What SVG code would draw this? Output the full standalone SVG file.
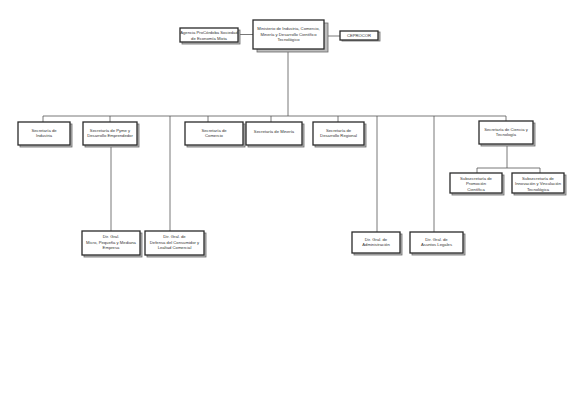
<svg xmlns="http://www.w3.org/2000/svg" width="575" height="406" viewBox="0 0 575 406">
<defs>
<style>
.box{fill:#fff;stroke:#2a2a2a;stroke-width:1.3}
.sh{fill:#bdbdbd;stroke:#6a6a6a;stroke-width:0.8}
.t{font-family:"Liberation Sans",Arial,sans-serif;font-size:4.2px;fill:#333;text-anchor:middle}
.c{fill:none;stroke:#555;stroke-width:0.8}
</style>
</defs>
<rect width="575" height="406" fill="#fff"/>
<g id="connectors">
<path class="c" d="M238,34.5H253M324,36H340"/>
<path class="c" d="M288,50V116M43,116H506M43,116V122M110,116V122M170,116V231M208,116V122M271,116V122M338,116V122M377,116V232M434,116V232M506,116V121"/>
<path class="c" d="M111,145V231M507,144V168M477,168H540M477,168V173M540,168V173"/>
</g>
<g id="agencia"><rect class="sh" x="182" y="30" width="58" height="14"/><rect class="box" x="180" y="28" width="58" height="14"/><text class="t" x="209" y="34">Agencia ProCórdoba Sociedad</text><text class="t" x="209" y="39.5">de Economía Mixta</text></g>
<g id="ministerio"><rect class="sh" x="257" y="23" width="71" height="29"/><rect class="box" x="253" y="20" width="71" height="29"/><text class="t" x="288.5" y="30">Ministerio de Industria, Comercio,</text><text class="t" x="288.5" y="35.5">Minería y Desarrollo Científico</text><text class="t" x="288.5" y="41">Tecnológico</text></g>
<g id="ceprocor"><rect class="sh" x="342" y="32" width="38" height="9"/><rect class="box" x="340" y="31" width="38" height="9"/><text class="t" x="359" y="37">CEPROCOR</text></g>
<g id="sec-industria"><rect class="sh" x="20" y="124" width="52" height="23"/><rect class="box" x="18" y="122" width="52" height="23"/><text class="t" x="44" y="131.5">Secretaría de</text><text class="t" x="44" y="137">Industria</text></g>
<g id="sec-pyme"><rect class="sh" x="85" y="124" width="54" height="23"/><rect class="box" x="83" y="122" width="54" height="23"/><text class="t" x="110" y="131.5">Secretaría de Pyme y</text><text class="t" x="110" y="137">Desarrollo Emprendedor</text></g>
<g id="sec-comercio"><rect class="sh" x="187" y="124" width="58" height="23"/><rect class="box" x="185" y="122" width="58" height="23"/><text class="t" x="214" y="131.5">Secretaría de</text><text class="t" x="214" y="137">Comercio</text></g>
<g id="sec-mineria"><rect class="sh" x="248" y="124" width="56" height="23"/><rect class="box" x="246" y="122" width="56" height="23"/><text class="t" x="274" y="133">Secretaría de Minería</text></g>
<g id="sec-regional"><rect class="sh" x="315" y="124" width="51" height="23"/><rect class="box" x="313" y="122" width="51" height="23"/><text class="t" x="338.5" y="131.5">Secretaría de</text><text class="t" x="338.5" y="137">Desarrollo Regional</text></g>
<g id="sec-ciencia"><rect class="sh" x="481" y="123" width="54" height="23"/><rect class="box" x="479" y="121" width="54" height="23"/><text class="t" x="506" y="130.5">Secretaría de Ciencia y</text><text class="t" x="506" y="136">Tecnología</text></g>
<g id="sub-promocion"><rect class="sh" x="452" y="175" width="52" height="20"/><rect class="box" x="450" y="173" width="52" height="20"/><text class="t" x="476" y="179.5">Subsecretaría de</text><text class="t" x="476" y="185">Promoción</text><text class="t" x="476" y="190.5">Científica</text></g>
<g id="sub-innovacion"><rect class="sh" x="514" y="175" width="52" height="20"/><rect class="box" x="512" y="173" width="52" height="20"/><text class="t" x="538" y="179.5">Subsecretaría de</text><text class="t" x="538" y="185">Innovación y Vinculación</text><text class="t" x="538" y="190.5">Tecnológica</text></g>
<g id="dir-mipyme"><rect class="sh" x="84" y="233" width="58" height="24"/><rect class="box" x="82" y="231" width="58" height="24"/><text class="t" x="111" y="238">Dir. Gral.</text><text class="t" x="111" y="243.5">Micro, Pequeña y Mediana</text><text class="t" x="111" y="249">Empresa</text></g>
<g id="dir-defensa"><rect class="sh" x="147" y="233" width="59" height="24"/><rect class="box" x="145" y="231" width="59" height="24"/><text class="t" x="174.5" y="238">Dir. Gral. de</text><text class="t" x="174.5" y="243.5">Defensa del Consumidor y</text><text class="t" x="174.5" y="249">Lealtad Comercial</text></g>
<g id="dir-admin"><rect class="sh" x="354" y="234" width="48" height="21"/><rect class="box" x="352" y="232" width="48" height="21"/><text class="t" x="376" y="240.5">Dir. Gral. de</text><text class="t" x="376" y="246">Administración</text></g>
<g id="dir-legales"><rect class="sh" x="412" y="234" width="53" height="21"/><rect class="box" x="410" y="232" width="53" height="21"/><text class="t" x="436.5" y="240.5">Dir. Gral. de</text><text class="t" x="436.5" y="246">Asuntos Legales</text></g>
</svg>
